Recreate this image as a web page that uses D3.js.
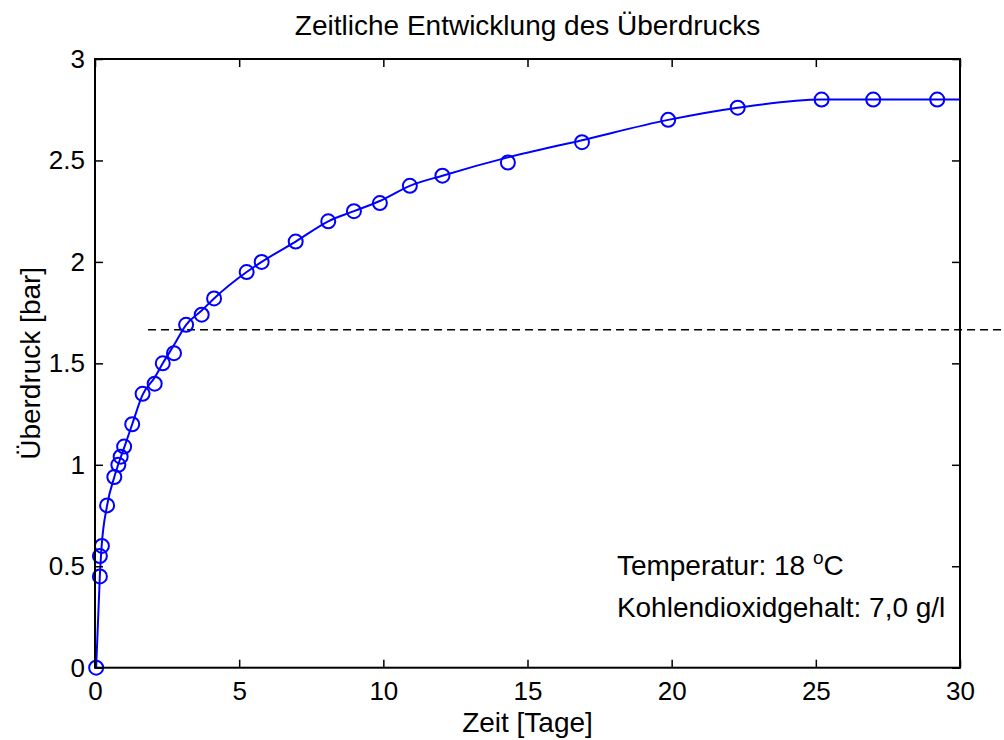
<!DOCTYPE html>
<html>
<head>
<meta charset="utf-8">
<script src="https://cdn.jsdelivr.net/npm/d3@7"></script>
<style>
  body { margin: 0; background: #fff; }
  svg { display: block; font-family: 'Liberation Sans', Arial, sans-serif; }
</style>
</head>
<body>
<div id="container"></div>
<script>
'use strict';

const w = 1004;
const h = 740;
const plotLeft = 95, plotRight = 960, plotTop = 59, plotBottom = 667.7;

// measured points (days, bar)
const days = [0.04, 0.17, 0.17, 0.24, 0.42, 0.67, 0.81, 0.89, 1.01, 1.29, 1.65, 2.07, 2.35, 2.74,
    3.16, 3.70, 4.13, 5.26, 5.78, 6.96, 8.09, 8.98, 9.88, 10.92, 12.05, 14.32, 16.89, 19.88,
    22.29, 25.20, 26.99, 29.21];
const pressure = [0, 0.45, 0.55, 0.60, 0.80, 0.94, 1.00, 1.04, 1.09, 1.20, 1.35, 1.40, 1.50, 1.55,
    1.69, 1.74, 1.82, 1.95, 2.00, 2.10, 2.20, 2.25, 2.29, 2.375, 2.425, 2.49, 2.59, 2.70,
    2.76, 2.80, 2.80, 2.80];

// fitted curve
const fitDays = [0.04, 0.17, 0.22, 0.42, 0.67, 0.85, 1.0, 1.29, 1.65, 2.07, 2.35, 2.74, 3.16, 3.70,
    4.13, 5.26, 5.78, 6.96, 8.09, 8.98, 9.88, 10.92, 12.05, 14.32, 16.89, 19.88, 22.29, 25.20, 30];
const fitPressure = [0, 0.46, 0.58, 0.80, 0.94, 1.02, 1.08, 1.20, 1.345, 1.43, 1.50, 1.59, 1.69, 1.76,
    1.82, 1.95, 2.00, 2.10, 2.20, 2.25, 2.30, 2.375, 2.425, 2.515, 2.60, 2.70, 2.76, 2.80, 2.80];

// dashed reference level
const refDays = [1.84, 32];
const refPressure = 1.665;

const xTicks = [0, 5, 10, 15, 20, 25, 30];
const yTicks = [0, 0.5, 1, 1.5, 2, 2.5, 3];

const svg = d3.select('#container')
    .append('svg')
    .attr('width', w)
    .attr('height', h);

const xScale = d3.scaleLinear().domain([0, 30]).range([plotLeft, plotRight]);
const yScale = d3.scaleLinear().domain([0, 3]).range([plotBottom, plotTop]);

// dashed line (runs past the axes on the right)
svg.append('line')
    .attr('x1', xScale(refDays[0]))
    .attr('x2', xScale(refDays[1]))
    .attr('y1', yScale(refPressure))
    .attr('y2', yScale(refPressure))
    .attr('stroke', '#000')
    .attr('stroke-width', 1.5)
    .attr('stroke-dasharray', '8,5');

svg.append('defs').append('clipPath')
    .attr('id', 'clip')
    .append('rect')
    .attr('x', plotLeft).attr('y', plotTop)
    .attr('width', plotRight - plotLeft).attr('height', plotBottom - plotTop);

const line = d3.line()
    .x((d) => xScale(d[0]))
    .y((d) => yScale(d[1]))
    .curve(d3.curveMonotoneX);

svg.append('path')
    .datum(fitDays.map((d, i) => [d, fitPressure[i]]))
    .attr('clip-path', 'url(#clip)')
    .attr('d', line)
    .attr('fill', 'none')
    .attr('stroke', '#0000ff')
    .attr('stroke-width', 2);

svg.selectAll('circle.pt')
    .data(days.map((d, i) => [d, pressure[i]]))
    .enter()
    .append('circle')
    .attr('class', 'pt')
    .attr('cx', (d) => xScale(d[0]))
    .attr('cy', (d) => yScale(d[1]))
    .attr('r', 7)
    .attr('fill', 'none')
    .attr('stroke', '#0000ff')
    .attr('stroke-width', 2);

// axes with inward ticks on all sides
const styleAxis = (g) => {
    g.select('.domain').remove();
    g.selectAll('.tick line').attr('stroke', '#000').attr('stroke-width', 1.5);
    g.selectAll('.tick text').attr('fill', '#000').style('font-size', '26px')
        .style('font-family', "'Liberation Sans', Arial, sans-serif");
};

svg.append('g')
    .attr('transform', 'translate(0,' + plotBottom + ')')
    .call(d3.axisBottom(xScale).tickValues(xTicks).tickSizeInner(-8).tickSizeOuter(0)
        .tickPadding(14).tickFormat(d3.format('d')))
    .call(styleAxis);
svg.append('g')
    .attr('transform', 'translate(0,' + plotTop + ')')
    .call(d3.axisTop(xScale).tickValues(xTicks).tickSizeInner(-8).tickSizeOuter(0).tickFormat(''))
    .call(styleAxis);
svg.append('g')
    .attr('transform', 'translate(' + plotLeft + ',0)')
    .call(d3.axisLeft(yScale).tickValues(yTicks).tickSizeInner(-8).tickSizeOuter(0)
        .tickPadding(10).tickFormat((d) => String(d)))
    .call(styleAxis);
svg.append('g')
    .attr('transform', 'translate(' + plotRight + ',0)')
    .call(d3.axisRight(yScale).tickValues(yTicks).tickSizeInner(-8).tickSizeOuter(0).tickFormat(''))
    .call(styleAxis);

svg.append('rect')
    .attr('x', plotLeft).attr('y', plotTop)
    .attr('width', plotRight - plotLeft).attr('height', plotBottom - plotTop)
    .attr('fill', 'none')
    .attr('stroke', '#000')
    .attr('stroke-width', 2);

// titles
svg.append('text')
    .attr('x', (plotLeft + plotRight) / 2)
    .attr('y', 35)
    .attr('text-anchor', 'middle')
    .style('font-size', '28px')
    .text('Zeitliche Entwicklung des Überdrucks');

svg.append('text')
    .attr('x', (plotLeft + plotRight) / 2)
    .attr('y', 732)
    .attr('text-anchor', 'middle')
    .style('font-size', '28px')
    .text('Zeit [Tage]');

svg.append('text')
    .attr('transform', 'translate(40,' + (plotTop + plotBottom) / 2 + ') rotate(-90)')
    .attr('text-anchor', 'middle')
    .style('font-size', '28px')
    .text('Überdruck [bar]');

// annotation
const note = svg.append('text')
    .attr('x', xScale(18.1))
    .attr('y', 575)
    .style('font-size', '28px');
note.append('tspan').text('Temperatur: 18 ');
note.append('tspan').attr('dy', -11).style('font-size', '19px').text('o');
note.append('tspan').attr('dy', 11).text('C');

svg.append('text')
    .attr('x', xScale(18.1))
    .attr('y', 617)
    .style('font-size', '28px')
    .text('Kohlendioxidgehalt: 7,0 g/l');
</script>
</body>
</html>
